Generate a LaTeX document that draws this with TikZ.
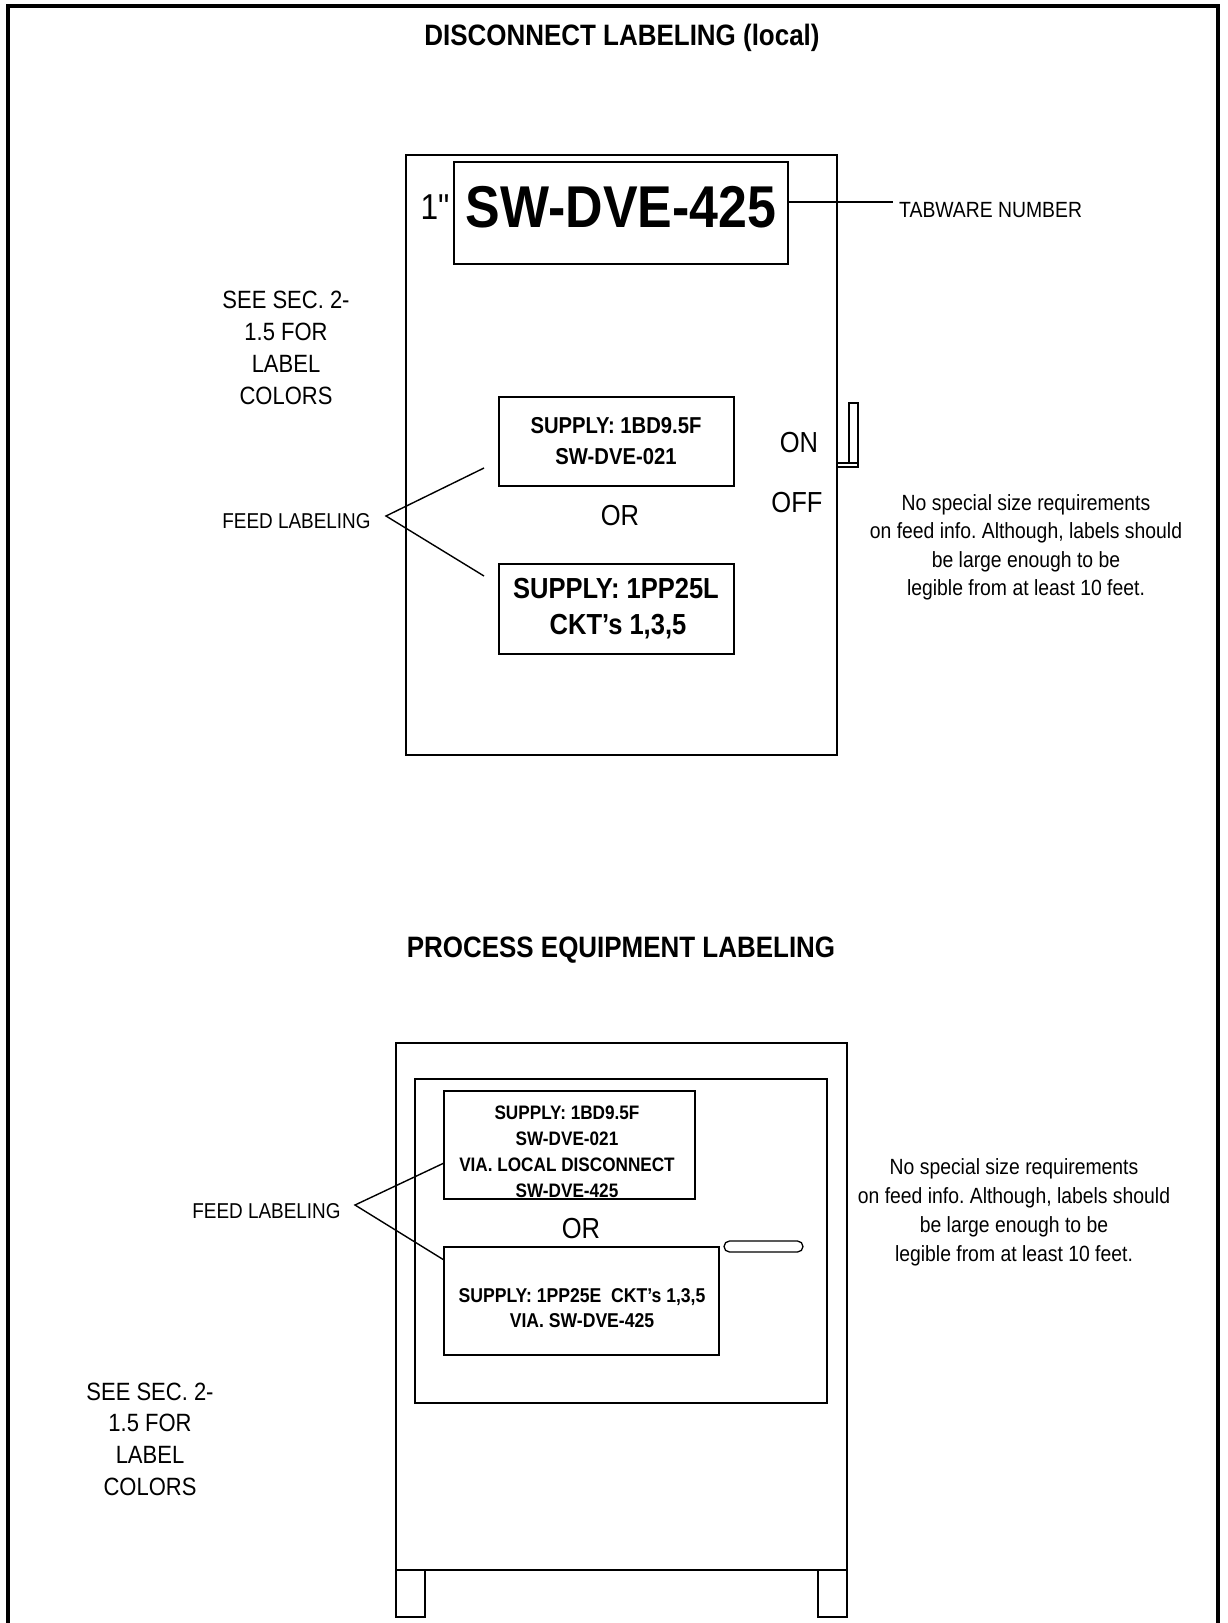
\documentclass[tikz,border=0pt]{standalone}
\usepackage{fontspec}
\setmainfont{Liberation Sans}[FakeStretch=0.88]
\newfontfamily\rawfont{Liberation Sans}[FakeStretch=0.88,Ligatures=TeXOff]
\frenchspacing
\begin{document}
\frenchspacing
\begin{tikzpicture}[x=1pt,y=-1pt,line join=miter,
  ln/.style={line width=1.3pt},
  lead/.style={line width=1.4pt},
  frameline/.style={line width=4pt},
  boxn/.style={draw,ln,rectangle,inner sep=0pt,outer sep=0pt},
  t/.style={inner sep=0pt,anchor=base},
  ttl/.style={t,font=\bfseries\fontsize{29.5}{30}\selectfont},
  reg/.style={t,font=\fontsize{#1}{#1}\selectfont},
  bld/.style={t,font=\bfseries\fontsize{#1}{#1}\selectfont}]
\useasboundingbox (0,0) rectangle (1228,1623);
% outer frame (bottom edge lies below the sheet)
\draw[frameline] (8,1630) -- (8,6) -- (1218,6) -- (1218,1630);

% ===== DISCONNECT LABELING =====
\node[ttl] (title1) at (622,45.5) {DISCONNECT LABELING (local)};
\node[boxn,minimum width=431,minimum height=600] (disc) at (621.5,455) {};
\node[boxn,minimum width=334,minimum height=102] (tag) at (621,213) {};
\node[t,font=\rawfont\fontsize{36}{36}\selectfont] (inch) at (435,219) {1"};
\node[bld=59] (tagtext) at (621,227) {SW-DVE-425};
\node[reg=22,anchor=base west] (tabw) at (899,217.5) {TABWARE NUMBER};
\coordinate (tabend) at (893,202);
\draw[lead] (tag.east |- tabend) -- (tabend);

\foreach \s [count=\i] in {SEE SEC. 2-,1.5 FOR,LABEL,COLORS}
  \node[reg=25] (seeA\i) at (286,{308+32*(\i-1)}) {\s};

\node[boxn,minimum width=235,minimum height=89] (sup1) at (616.5,441.5) {};
\node[bld=23] (sup1a) at (616,433) {SUPPLY: 1BD9.5F};
\node[bld=23] (sup1b) at (616,464.5) {SW-DVE-021};
\node[reg=29] (orA) at (620,525) {OR};
\node[boxn,minimum width=235,minimum height=90] (sup2) at (616.5,609) {};
\node[bld=29] (sup2a) at (616,598) {SUPPLY: 1PP25L};
\node[bld=29] (sup2b) at (618,634) {CKT’s 1,3,5};

\node[reg=29] (on) at (799,452.5) {ON};
\node[reg=29] (off) at (797,512) {OFF};
% handle
\draw[ln] (849,403) rectangle (858,463);
\draw[ln] (837,463) rectangle (858,467);

\node[reg=21.5] (feedA) at (296.5,528) {FEED LABELING};
\coordinate (vA) at (386,516);
\coordinate (vA1) at (484,468);
\coordinate (vA2) at (484,576);
\draw[lead] (vA1) -- (vA) -- (vA2);

\foreach \s [count=\i] in {No special size requirements,{on feed info. Although, labels should},be large enough to be,legible from at least 10 feet.}
  \node[reg=22] (noteA\i) at (1026,{510+28.5*(\i-1)}) {\s};

% ===== PROCESS EQUIPMENT LABELING =====
\node[ttl] (title2) at (621,957) {PROCESS EQUIPMENT LABELING};
\node[boxn,minimum width=451,minimum height=527] (cab) at (621.5,1306.5) {};
\node[boxn,minimum width=412,minimum height=324] (door) at (621,1241) {};
\draw[ln] (396,1570) rectangle (425,1617);
\draw[ln] (818,1570) rectangle (847,1617);

\node[boxn,minimum width=251,minimum height=108] (supA) at (569.5,1145) {};
\node[bld=19.5] (supA1) at (567,1119) {SUPPLY: 1BD9.5F};
\node[bld=19.5] (supA2) at (567,1145) {SW-DVE-021};
\node[bld=19.5] (supA3) at (567,1171) {VIA. LOCAL DISCONNECT};
\node[bld=19.5] (supA4) at (567,1197) {SW-DVE-425};
\node[reg=29] (orB) at (581,1238) {OR};
\draw[ln,rounded corners=5.5] (724,1241) rectangle (803,1252);
\node[boxn,minimum width=275,minimum height=108] (supB) at (581.5,1301) {};
\node[bld=20] (supB1) at (582,1302) {SUPPLY: 1PP25E\ \ CKT’s 1,3,5};
\node[bld=20] (supB2) at (582,1327) {VIA. SW-DVE-425};

\node[reg=21.5] (feedB) at (266.5,1218) {FEED LABELING};
\coordinate (vB) at (355,1205);
\coordinate (vB1) at (444,1163);
\coordinate (vB2) at (444,1260);
\draw[lead] (vB1) -- (vB) -- (vB2);

\foreach \s [count=\i] in {No special size requirements,{on feed info. Although, labels should},be large enough to be,legible from at least 10 feet.}
  \node[reg=22] (noteB\i) at (1014,{1174+29*(\i-1)}) {\s};

\foreach \s [count=\i] in {SEE SEC. 2-,1.5 FOR,LABEL,COLORS}
  \node[reg=25] (seeB\i) at (150,{1400+31.7*(\i-1)}) {\s};
\end{tikzpicture}
\end{document}
